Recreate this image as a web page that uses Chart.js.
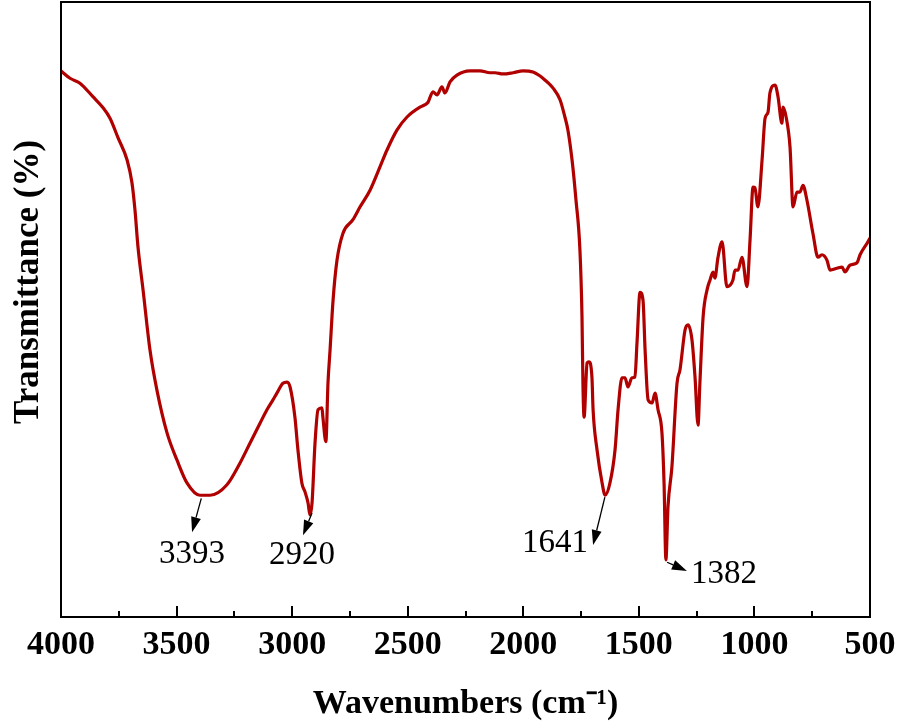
<!DOCTYPE html>
<html><head><meta charset="utf-8">
<script src="https://cdn.jsdelivr.net/npm/chart.js@4.4.0/dist/chart.umd.min.js"></script>
<style>html,body{margin:0;padding:0;background:#fff;}#wrap{width:898px;height:728px;}</style>
</head><body><div id="wrap"><canvas id="c" width="898" height="728"></canvas></div>
<script>
const wavenumbers = [4000,3961,3918,3862,3818,3788,3753,3714,3693,3680,
3667,3645,3615,3585,3541,3498,3455,3399,3355,3282,
3226,3182,3139,3109,3083,3066,3040,3022,3009,2988,
2975,2958,2944,2931,2923,2914,2901,2888,2871,2867,
2854,2845,2836,2823,2806,2780,2737,2706,2663,2620,
2590,2546,2503,2447,2425,2412,2391,2373,2352,2339,
2317,2287,2231,2187,2144,2122,2088,2044,2001,1958,
1915,1871,1841,1820,1807,1789,1772,1755,1746,1742,
1737,1724,1716,1703,1698,1681,1659,1646,1625,1603,
1590,1573,1560,1547,1530,1517,1508,1495,1482,1473,
1460,1443,1430,1417,1400,1391,1383,1374,1357,1335,
1322,1300,1287,1270,1257,1244,1236,1222,1205,1192,
1179,1171,1158,1140,1119,1093,1084,1071,1054,1032,
1019,1006,998,985,967,954,941,933,911,898,
881,876,863,846,833,816,803,790,773,747,
725,708,686,673,643,621,608,587,556,543,
509,500];
const transmittance = [88.8,87.6,86.8,84.6,82.8,81.1,77.9,74.3,70.6,66.2,
60.2,53.2,43.4,36.9,29.9,25.5,21.8,19.8,19.8,21.5,
25.0,28.3,31.5,33.7,35.3,36.4,38.0,38.2,37.4,32.5,
27.2,21.8,20.3,18.5,16.6,18.5,28.3,33.7,34.0,32.5,
28.5,38.0,43.4,51.5,58.0,62.4,64.6,66.7,69.4,73.2,
75.9,79.2,81.3,82.9,83.3,83.7,85.4,84.9,86.2,85.2,
87.0,88.1,88.8,88.8,88.5,88.5,88.3,88.5,88.8,88.6,
87.6,86.0,84.1,81.3,79.2,74.3,67.8,59.7,48.8,38.0,
32.5,41.3,41.5,39.0,33.7,27.2,21.8,19.8,21.8,27.2,
33.7,38.9,38.9,37.4,38.9,39.0,44.6,52.8,51.5,43.4,
35.3,34.8,36.4,33.7,29.9,21.8,9.3,17.9,24.4,38.0,
40.2,46.7,47.5,45.0,39.0,31.2,38.0,48.8,53.2,54.8,
56.1,55.1,58.4,61.0,53.7,54.8,56.4,56.4,58.5,53.7,
61.3,69.9,69.8,66.7,74.3,81.1,82.1,85.2,86.5,84.6,
80.3,82.9,81.3,76.4,66.7,69.1,69.1,70.2,67.8,62.4,
58.5,58.9,58.0,56.4,56.7,56.9,56.1,57.2,57.6,58.9,
61.0,61.6];
const majorTicks = [4000,3500,3000,2500,2000,1500,1000,500];
const minorTicks = [3750,3250,2750,2250,1750,1250,750];
// peak annotations: label, arrow start (x,y), arrow tip (x,y), text centre (x,y) in data units
const peakLabels = ['3393','2920','1641','1382'];
const peakFrom = [[3393,19.3],[2914,16.9],[1647,19.5],[1378,8.9]];
const peakTip  = [[3433,13.8],[2953,13.3],[1698,11.7],[1292,7.5]];
const peakText = [[3433,10.2],[2957,10.1],[1863,12.0],[1132,7.0]];
const yTitle = 'Transmittance (%)';
const xTitle = 'Wavenumbers (cm\u207B\u00B9)';

const SERIF = "'Liberation Serif','Times New Roman',serif";

const framePlugin = {
  id: 'frame',
  afterDraw(chart) {
    const {ctx, chartArea: a, scales: {x}} = chart;
    ctx.save();
    ctx.strokeStyle = '#000';
    ctx.lineWidth = 2;
    ctx.strokeRect(a.left, a.top, a.right - a.left, a.bottom - a.top);
    const tick = (v, len) => {
      const px = Math.round(x.getPixelForValue(v));
      ctx.beginPath(); ctx.moveTo(px, a.bottom); ctx.lineTo(px, a.bottom - len); ctx.stroke();
    };
    majorTicks.forEach(v => tick(v, 11));
    minorTicks.forEach(v => tick(v, 6));
    // y axis title (placed as in the reference, slightly above the centre)
    ctx.translate(29, 282);
    ctx.rotate(-Math.PI / 2);
    ctx.fillStyle = '#000';
    ctx.font = "bold 35px " + SERIF;
    ctx.textAlign = 'center'; ctx.textBaseline = 'middle';
    ctx.fillText(yTitle, 0, 0);
    ctx.restore();
  }
};

const peakPlugin = {
  id: 'peaks',
  afterDatasetsDraw(chart) {
    const {ctx, scales: {x, y}} = chart;
    ctx.save();
    ctx.strokeStyle = '#000'; ctx.fillStyle = '#000'; ctx.lineWidth = 1.3;
    peakLabels.forEach((lab, i) => {
      const x0 = x.getPixelForValue(peakFrom[i][0]), y0 = y.getPixelForValue(peakFrom[i][1]);
      const x1 = x.getPixelForValue(peakTip[i][0]), y1 = y.getPixelForValue(peakTip[i][1]);
      const ang = Math.atan2(y1 - y0, x1 - x0);
      const hl = 15, hw = 5;
      const bx = x1 - hl * Math.cos(ang), by = y1 - hl * Math.sin(ang);
      ctx.beginPath(); ctx.moveTo(x0, y0); ctx.lineTo(bx, by); ctx.stroke();
      ctx.beginPath();
      ctx.moveTo(x1, y1);
      ctx.lineTo(bx + hw * Math.sin(ang), by - hw * Math.cos(ang));
      ctx.lineTo(bx - hw * Math.sin(ang), by + hw * Math.cos(ang));
      ctx.closePath(); ctx.fill();
      ctx.font = "33px " + SERIF;
      ctx.textAlign = 'center'; ctx.textBaseline = 'middle';
      ctx.fillText(lab, x.getPixelForValue(peakText[i][0]), y.getPixelForValue(peakText[i][1]));
    });
    ctx.restore();
  }
};

new Chart(document.getElementById('c'), {
  type: 'line',
  data: {
    datasets: [{
      data: wavenumbers.map((w, i) => ({x: w, y: transmittance[i]})),
      borderColor: '#b00000',
      borderWidth: 3.2,
      pointRadius: 0,
      fill: false,
      cubicInterpolationMode: 'monotone'
    }]
  },
  options: {
    responsive: false,
    animation: false,
    devicePixelRatio: 1,
    layout: {padding: {top: 2, right: 28, left: 0, bottom: 0}},
    plugins: {legend: {display: false}, tooltip: {enabled: false}},
    scales: {
      x: {
        type: 'linear', reverse: true, min: 500, max: 4000,
        afterBuildTicks: s => { s.ticks = majorTicks.map(v => ({value: v})); },
        afterFit: s => { s.height = 111; s.paddingLeft = 0; s.paddingRight = 0; },
        grid: {display: false, drawTicks: false},
        border: {display: false},
        ticks: {color: '#000', padding: 8, maxRotation: 0, autoSkip: false,
          callback: v => String(v),
          font: {family: SERIF, size: 34, weight: 'bold'}},
        title: {display: true, text: xTitle, color: '#000',
          padding: {top: 0, bottom: 3}, font: {family: SERIF, size: 34, weight: 'bold'}}
      },
      y: {
        min: 0, max: 100,
        afterFit: s => { s.width = 61; },
        grid: {display: false, drawTicks: false},
        border: {display: false},
        ticks: {display: false},
        title: {display: false}
      }
    }
  },
  plugins: [framePlugin, peakPlugin]
});
</script>
</body></html>
